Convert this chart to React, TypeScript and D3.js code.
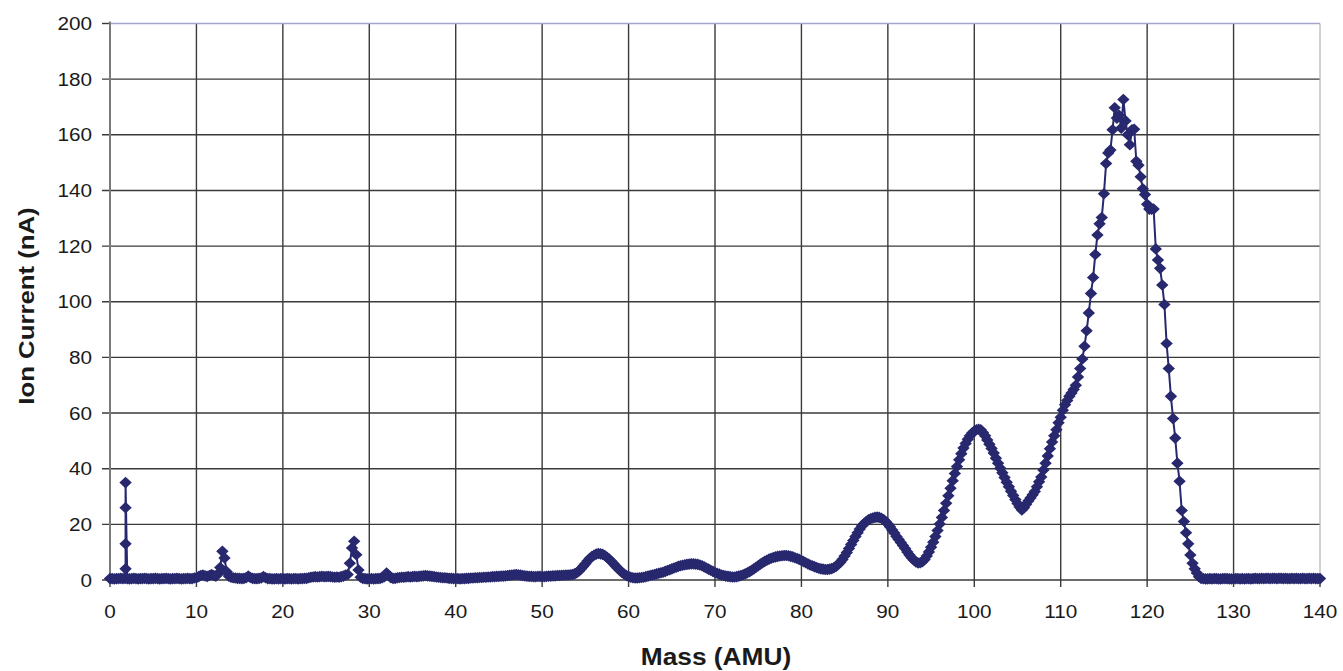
import React from "react";
import * as d3 from "d3";

const WIDTH = 1343;
const HEIGHT = 671;

// Axis ticks
const xTicks = [0, 10, 20, 30, 40, 50, 60, 70, 80, 90, 100, 110, 120, 130, 140];
const yTicks = [0, 20, 40, 60, 80, 100, 120, 140, 160, 180, 200];

// Mass scan sampled every 0.25 AMU from 0 to 140 (ion current in nA)
const massStep = 0.25;
const ionCurrent = [
  // 0 - 9.75
  0.5, 0.5, 0.4, 0.5, 0.5, 0.6, 0.5, 0.6, 0.5, 0.4, 0.5, 0.6, 0.5, 0.4, 0.5, 0.5,
  0.6, 0.5, 0.4, 0.5, 0.5, 0.6, 0.5, 0.4, 0.5, 0.5, 0.6, 0.5, 0.4, 0.5, 0.5, 0.6,
  0.5, 0.4, 0.5, 0.5, 0.6, 0.5, 0.5, 0.7,
  // 10 - 19.75
  0.8, 1.2, 1.6, 1.8, 1.5, 1.3, 1.6, 2.0, 1.6, 1.4, 2.2, 4.5, 10.3, 7.9, 3.0, 1.4,
  1.0, 0.8, 0.7, 0.6, 0.6, 0.5, 0.6, 0.8, 1.4, 0.9, 0.6, 0.5, 0.5, 0.6, 0.7, 1.2,
  0.8, 0.5, 0.5, 0.4, 0.4, 0.5, 0.4, 0.5,
  // 20 - 29.75
  0.5, 0.4, 0.5, 0.5, 0.4, 0.5, 0.5, 0.4, 0.5, 0.5, 0.6, 0.6, 0.8, 1.0, 1.1, 1.2,
  1.1, 1.2, 1.3, 1.2, 1.2, 1.3, 1.2, 1.1, 1.0, 1.1, 1.0, 1.2, 1.4, 1.8, 2.0, 6.0,
  11.5, 13.9, 9.1, 3.6, 1.0, 0.6, 0.5, 0.4,
  // 30 - 39.75
  0.4, 0.5, 0.4, 0.5, 0.5, 0.6, 0.8, 1.2, 2.5, 1.6, 0.8, 0.6, 0.6, 0.8, 0.9, 1.0,
  1.0, 1.1, 1.2, 1.1, 1.2, 1.3, 1.2, 1.3, 1.4, 1.5, 1.6, 1.5, 1.4, 1.3, 1.2, 1.1,
  1.0, 0.9, 0.8, 0.8, 0.7, 0.6, 0.6, 0.5,
  // 40 - 49.75
  0.5, 0.5, 0.4, 0.5, 0.5, 0.6, 0.6, 0.7, 0.7, 0.8, 0.8, 0.9, 0.9, 1.0, 1.0, 1.1,
  1.1, 1.2, 1.2, 1.3, 1.3, 1.4, 1.4, 1.5, 1.6, 1.7, 1.8, 1.9, 2.0, 1.9, 1.8, 1.6,
  1.5, 1.4, 1.3, 1.3, 1.2, 1.2, 1.3, 1.3,
  // 50 - 59.75
  1.2, 1.2, 1.3, 1.4, 1.4, 1.5, 1.5, 1.6, 1.6, 1.7, 1.7, 1.8, 1.8, 1.9, 2.0, 2.2,
  2.6, 3.2, 4.0, 4.9, 5.8, 6.8, 7.7, 8.4, 8.9, 9.3, 9.5, 9.4, 9.2, 8.8, 8.2, 7.5,
  6.7, 5.9, 5.0, 4.2, 3.4, 2.7, 2.1, 1.6,
  // 60 - 69.75
  1.3, 1.0, 0.8, 0.7, 0.7, 0.8, 0.9, 1.0, 1.2, 1.4, 1.6, 1.8, 2.0, 2.2, 2.4, 2.6,
  2.8, 3.1, 3.4, 3.7, 4.0, 4.3, 4.6, 4.9, 5.1, 5.3, 5.5, 5.6, 5.7, 5.8, 5.8, 5.7,
  5.6, 5.4, 5.1, 4.7, 4.3, 3.9, 3.5, 3.1,
  // 70 - 79.75
  2.7, 2.4, 2.1, 1.8, 1.6, 1.4, 1.3, 1.2, 1.1, 1.1, 1.2, 1.4, 1.6, 1.9, 2.2, 2.6,
  3.0, 3.5, 4.0, 4.6, 5.1, 5.7, 6.2, 6.7, 7.1, 7.5, 7.8, 8.1, 8.3, 8.5, 8.6, 8.7,
  8.8, 8.8, 8.7, 8.5, 8.3, 8.0, 7.7, 7.4,
  // 80 - 89.75
  7.0, 6.6, 6.2, 5.8, 5.4, 5.1, 4.8, 4.5, 4.2, 4.0, 3.9, 3.8, 3.8, 3.9, 4.1, 4.4,
  4.9, 5.6, 6.4, 7.4, 8.6, 9.9, 11.3, 12.8, 14.2, 15.6, 17.0, 18.3, 19.4, 20.3, 21.0, 21.6,
  22.0, 22.3, 22.5, 22.6, 22.5, 22.2, 21.7, 21.0,
  // 90 - 99.75
  20.1, 19.1, 18.0, 16.9, 15.6, 14.6, 13.5, 12.4, 11.3, 10.1, 9.0, 8.0, 7.2, 6.5, 6.1, 6.2,
  6.6, 7.4, 8.6, 10.1, 11.8, 13.6, 15.6, 17.8, 20.1, 22.5, 25.0, 27.6, 30.3, 33.0, 35.7, 38.3,
  40.8, 43.2, 45.4, 47.4, 49.1, 50.6, 51.8, 52.8,
  // 100 - 109.75
  53.5, 54.0, 54.2, 54.0, 53.0, 51.8, 50.3, 48.8, 47.3, 45.6, 43.8, 42.0, 40.2, 38.5, 36.8, 35.1,
  33.5, 31.9, 30.4, 28.9, 27.5, 26.2, 25.2, 26.0, 27.2, 28.4, 29.5, 30.6, 31.8, 33.5, 35.3, 37.0,
  39.5, 42.0, 44.6, 47.2, 49.6, 51.8, 54.0, 56.5,
  // 110 - 119.75
  58.5, 61.0, 63.0, 64.5, 66.0, 67.2, 68.5, 70.0, 73.0, 76.0, 79.4, 84.0, 89.6, 96.0, 103.0, 108.7,
  117.0, 124.0, 128.0, 130.3, 138.8, 149.7, 153.5, 154.5, 161.8, 169.7, 166.0, 167.0, 162.4, 172.7, 165.0, 160.0,
  156.4, 161.8, 162.0, 150.5, 149.1, 144.9, 140.6, 138.5,
  // 120 - 129.75
  135.0, 133.3, 133.3, 133.3, 119.0, 115.0, 112.0, 106.0, 99.0, 85.0, 76.0, 66.0, 58.0, 51.0, 42.0, 35.5,
  25.0, 21.0, 17.0, 13.0, 9.0, 6.0, 4.0, 2.5, 1.2, 0.6, 0.5, 0.4, 0.4, 0.5, 0.4, 0.5,
  0.5, 0.4, 0.4, 0.5, 0.5, 0.5, 0.4, 0.4,
  // 130 - 139.75
  0.4, 0.5, 0.5, 0.4, 0.5, 0.4, 0.5, 0.5, 0.4, 0.5, 0.6, 0.5, 0.5, 0.6, 0.5, 0.6,
  0.6, 0.5, 0.6, 0.6, 0.5, 0.6, 0.6, 0.5, 0.6, 0.5, 0.5, 0.6, 0.5, 0.6, 0.5, 0.5,
  0.6, 0.5, 0.5, 0.6, 0.5, 0.6, 0.5, 0.5,
  // 140
  0.5,
];

// Hydrogen spike recorded at a single mass setting
const spikeMass = [1.8, 1.8, 1.8, 1.8];
const spikeCurrent = [4, 13, 26, 35];

type Pt = { m: number; c: number };

function buildSeries(): Pt[] {
  const pts: Pt[] = [];
  ionCurrent.forEach((c, i) => {
    const m = i * massStep;
    if (m > spikeMass[0] && pts.length && pts[pts.length - 1].m < spikeMass[0]) {
      spikeMass.forEach((sm, j) => pts.push({ m: sm, c: spikeCurrent[j] }));
    }
    pts.push({ m, c });
  });
  return pts;
}

const FONT = "'Liberation Sans', Arial, Helvetica, sans-serif";
const SERIES = "#28286f";
const GRID = "#3a3a3a";

export default function App() {
  const x = d3.scaleLinear().domain([0, 140]).range([110, 1320]);
  const y = d3.scaleLinear().domain([0, 200]).range([580, 23.5]);
  const series = buildSeries();

  const line = d3
    .line<Pt>()
    .x((d) => x(d.m))
    .y((d) => y(d.c));

  const diamond = "M0,-5.8L6.2,0L0,5.8L-6.2,0Z";

  const x0 = x(0);
  const x1 = x(140);
  const yTop = y(200);
  const yBot = y(0);

  return (
    <svg
      width={WIDTH}
      height={HEIGHT}
      style={{ position: "absolute", left: 0, top: 0, background: "#ffffff" }}
      fontFamily={FONT}
    >
      <rect x={0} y={0} width={WIDTH} height={HEIGHT} fill="#ffffff" />

      {/* horizontal gridlines with outward ticks */}
      {yTicks.map((t) => (
        <line
          key={"hy" + t}
          x1={x0 - 8}
          x2={t === 200 ? x0 : x1}
          y1={y(t)}
          y2={y(t)}
          stroke={GRID}
          strokeWidth={1.4}
        />
      ))}

      {/* vertical gridlines with ticks below the axis */}
      {xTicks.map((t) =>
        t === 0 || t === 140 ? (
          <line key={"vx" + t} x1={x(t)} x2={x(t)} y1={yBot} y2={yBot + 7} stroke={GRID} strokeWidth={1.4} />
        ) : (
          <line key={"vx" + t} x1={x(t)} x2={x(t)} y1={yTop} y2={yBot + 7} stroke={GRID} strokeWidth={1.4} />
        )
      )}

      {/* plot frame */}
      <line x1={x0} x2={x1} y1={yTop} y2={yTop} stroke="#a4a4cc" strokeWidth={1.5} />
      <line x1={x1} x2={x1} y1={yTop} y2={yBot} stroke="#b4b4b4" strokeWidth={1.2} />
      <line x1={x0} x2={x0} y1={yTop - 2} y2={yBot + 7} stroke="#7a7a7a" strokeWidth={2} />

      {/* y tick labels */}
      {yTicks.map((t) => (
        <text
          key={"ly" + t}
          transform={`translate(92,${y(t)}) scale(1.12,1)`}
          dy="0.36em"
          textAnchor="end"
          fontSize={18.5}
          fill="#1a1a1a"
        >
          {t}
        </text>
      ))}

      {/* x tick labels */}
      {xTicks.map((t) => (
        <text
          key={"lx" + t}
          transform={`translate(${x(t)},618) scale(1.12,1)`}
          textAnchor="middle"
          fontSize={18.5}
          fill="#1a1a1a"
        >
          {t}
        </text>
      ))}

      {/* axis titles */}
      <text
        transform="translate(716,665) scale(1.12,1)"
        textAnchor="middle"
        fontSize={23.5}
        fontWeight="bold"
        fill="#1a1a1a"
      >
        Mass (AMU)
      </text>
      <text
        transform="translate(34,306) rotate(-90) scale(1.12,1)"
        textAnchor="middle"
        fontSize={23}
        fontWeight="bold"
        fill="#1a1a1a"
      >
        Ion Current (nA)
      </text>

      {/* series */}
      <path d={line(series) ?? ""} fill="none" stroke={SERIES} strokeWidth={2} strokeLinejoin="round" />
      {series.map((d, i) => (
        <path key={"m" + i} d={diamond} transform={`translate(${x(d.m)},${y(d.c)})`} fill={SERIES} />
      ))}
    </svg>
  );
}
